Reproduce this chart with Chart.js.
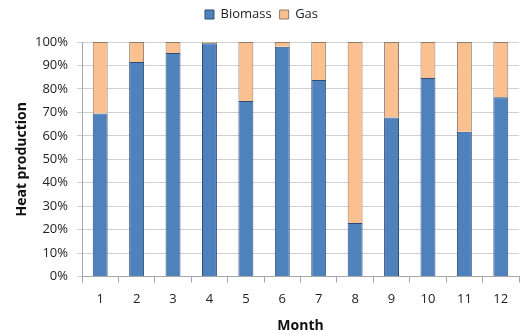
<!DOCTYPE html>
<html>
<head>
  <title>Heat production by month</title>
  <script src="https://cdn.jsdelivr.net/npm/chart.js"></script>
  <style>
    body { margin: 0; background: #fff; }
    #wrap { width: 521px; height: 334px; }
  </style>
</head>
<body>
  <div id="wrap"><canvas id="heat-chart" width="521" height="334"></canvas></div>

  <script>
    // months and shares (percent of heat production)
    let months = ["1", "2", "3", "4", "5", "6", "7", "8", "9", "10", "11", "12"];
    let biomass = [69.5, 91.5, 95.3, 99.5, 74.8, 98.0, 83.8, 22.8, 67.8, 84.7, 61.7, 76.4];
    let gas = [30.5, 8.5, 4.7, 0.5, 25.2, 2.0, 16.2, 77.2, 32.2, 15.3, 38.3, 23.6];
    let yTicks = [0, 10, 20, 30, 40, 50, 60, 70, 80, 90, 100];

    let font = "'Open Sans', 'DejaVu Sans', sans-serif";

    // extra space under the legend, like the original
    let legendGap = {
      id: "legendGap",
      beforeInit: function(chart) {
        let fit = chart.legend.fit;
        chart.legend.fit = function() {
          fit.bind(chart.legend)();
          this.height += 11;
        };
      }
    };

    let chartData = {
      labels: months,
      datasets: [{
        label: "Biomass",
        data: biomass,
        backgroundColor: "#4F81BD",
        borderColor: "#2C4D75",
        borderWidth: 1
      }, {
        label: "Gas",
        data: gas,
        backgroundColor: "#FAC090",
        borderColor: "#8F7B6A",
        borderWidth: 1
      }]
    };

    let heatChart = new Chart(document.getElementById("heat-chart"), {
      type: "bar",
      data: chartData,
      plugins: [legendGap],
      options: {
        responsive: false,
        animation: false,
        layout: { padding: { left: 4, right: 2, top: 0, bottom: 0 } },
        datasets: {
          bar: { barPercentage: 0.41, categoryPercentage: 1 }
        },
        plugins: {
          tooltip: { enabled: false },
          legend: {
            position: "top",
            labels: {
              boxWidth: 9,
              boxHeight: 9,
              padding: 8,
              color: "#222",
              font: { family: font, size: 13 }
            }
          }
        },
        scales: {
          x: {
            stacked: true,
            grid: {
              offset: true,
              drawOnChartArea: false,
              tickLength: 6,
              color: "#A6A6A6"
            },
            border: { color: "#A6A6A6" },
            ticks: {
              color: "#222",
              padding: 9,
              font: { family: font, size: 13 }
            },
            title: {
              display: true,
              text: "Month",
              color: "#111",
              padding: { top: 1, bottom: 0 },
              font: { family: font, size: 14, weight: "bold" }
            }
          },
          y: {
            stacked: true,
            min: 0,
            max: 100,
            afterBuildTicks: function(scale) {
              scale.ticks = yTicks.map(function(v) { return { value: v }; });
            },
            afterFit: function(scale) { scale.width = 78; },
            grid: {
              color: "#D0D0D0",
              tickLength: 5
            },
            border: { color: "#A6A6A6" },
            ticks: {
              color: "#222",
              padding: 9,
              font: { family: font, size: 13 },
              callback: function(v) { return v + "%"; }
            },
            title: {
              display: true,
              text: "Heat production",
              color: "#111",
              padding: { top: 10, bottom: 4 },
              font: { family: font, size: 14, weight: "bold" }
            }
          }
        }
      }
    });
  </script>
</body>
</html>
